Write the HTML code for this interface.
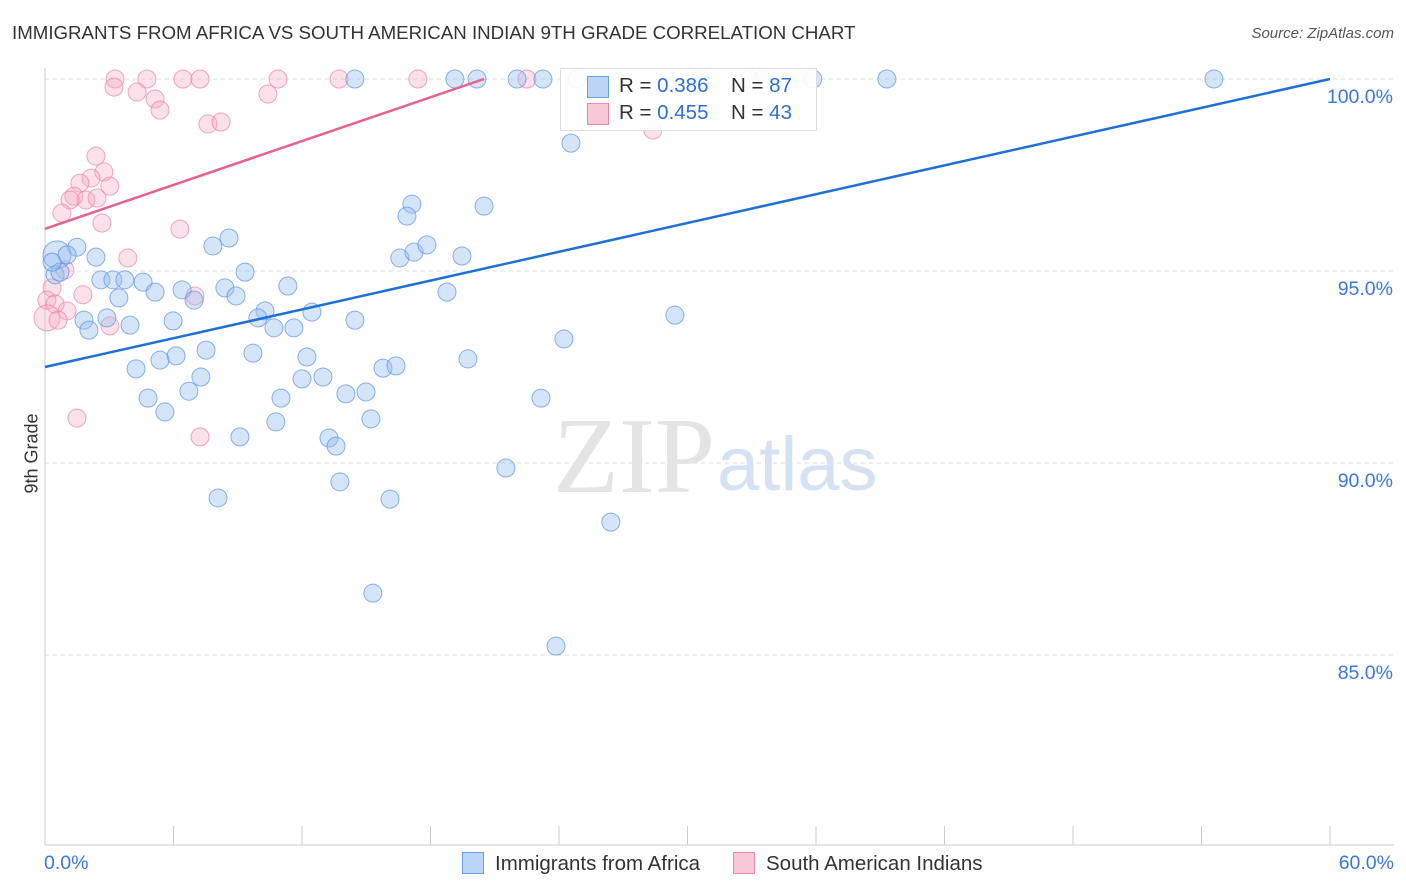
<!DOCTYPE html>
<html><head><meta charset="utf-8">
<style>
body{margin:0;background:#fff;font-family:"Liberation Sans",sans-serif;}
#wrap{position:relative;width:1406px;height:892px;overflow:hidden;}
.t{position:absolute;white-space:nowrap;}
</style></head>
<body>
<div id="wrap">
<div class="t" style="left:12px;top:22px;font-size:18.7px;color:#333;">IMMIGRANTS FROM AFRICA VS SOUTH AMERICAN INDIAN 9TH GRADE CORRELATION CHART</div>
<div class="t" style="right:12px;top:25px;font-size:15px;color:#555;font-style:italic;">Source: ZipAtlas.com</div>
<svg id="svg" width="1406" height="892" style="position:absolute;left:0;top:0"></svg>
</div>
<script>
const xTicks=[0,6,12,18,24,30,36,42,48,54,60];
const yTicks=[100,95,90,85];
const yTickLabels=["100.0%","95.0%","90.0%","85.0%"];
const blueX=[14.47,19.14,20.17,22.04,23.25,24.84,30.58,32.91,33.52,35.85,39.31,54.58,24.56,17.13,16.9,20.5,8.59,7.84,1.49,0.56,1.03,2.38,16.57,17.23,17.83,19.47,9.34,2.61,3.17,3.73,4.58,11.34,8.4,6.4,5.14,3.45,6.96,8.92,18.77,0.47,10.27,12.46,9.94,1.82,2.89,5.98,3.97,2.05,10.69,11.62,14.47,29.41,24.23,7.52,9.71,6.12,5.37,12.23,19.75,4.25,15.78,16.39,7.28,12.0,12.98,6.72,14.05,14.99,4.81,11.02,23.16,5.6,15.22,10.78,9.1,13.26,13.59,21.52,8.08,13.77,16.11,26.42,15.31,23.86,0.7,0.33];
const blueY=[100,100,100,100,100,100,100,100,100,100,100,100,98.33,96.74,96.43,96.69,95.86,95.65,95.62,95.42,95.42,95.36,95.34,95.49,95.68,95.39,94.97,94.77,94.77,94.77,94.71,94.61,94.56,94.51,94.45,94.3,94.24,94.35,94.45,94.9,93.96,93.93,93.78,93.72,93.78,93.7,93.59,93.46,93.52,93.52,93.72,93.85,93.23,92.94,92.86,92.79,92.68,92.76,92.71,92.45,92.47,92.53,92.24,92.19,92.24,91.87,91.8,91.85,91.69,91.69,91.69,91.33,91.15,91.07,90.68,90.65,90.44,89.87,89.09,89.51,89.06,88.46,86.61,85.23,94.97,95.23];
const pinkX=[3.27,4.76,6.44,7.24,10.88,13.73,17.41,22.5,3.22,4.3,10.41,5.14,5.37,7.61,8.22,28.38,2.38,2.75,2.15,1.63,3.03,1.35,1.91,1.17,2.43,0.79,2.66,6.3,3.87,0.93,0.33,1.77,0.09,7.0,0.47,1.03,0.09,0.61,3.03,1.49,7.24];
const pinkY=[100,100,100,100,100,100,100,100,99.79,99.66,99.61,99.48,99.19,98.83,98.88,98.67,97.99,97.58,97.42,97.29,97.21,96.95,96.85,96.85,96.9,96.51,96.25,96.09,95.34,95.03,94.56,94.38,94.24,94.35,94.14,93.96,93.78,93.72,93.57,91.17,90.68];
const blueLine=[92.5,100];
const pinkLine=[96.1,100,20.5];
const X=v=>45+v*(1285/60);
const Y=v=>79+(100-v)*38.4;
const svg=document.getElementById('svg');const NS='http://www.w3.org/2000/svg';
function mk(tag,attrs,parent){const e=document.createElementNS(NS,tag);for(const k in attrs)e.setAttribute(k,attrs[k]);(parent||svg).appendChild(e);return e;}
yTicks.forEach((v,i)=>{
 const g=mk('line',{x1:45,x2:1394,y1:Y(v),y2:Y(v),stroke:'#ddd','stroke-dasharray':'4,4'});
 
 
 const t=mk('text',{x:1393,y:Y(v)+24,'text-anchor':'end','font-size':19.5,fill:'#3a78d8','font-family':'Liberation Sans'});
 t.textContent=yTickLabels[i];
 
 
});
const ax=mk('line',{x1:45,x2:1394,y1:845,y2:845,stroke:'#ccc'});


const ay=mk('line',{x1:45,x2:45,y1:68,y2:845,stroke:'#ccc'});


xTicks.forEach(v=>{const l=mk('line',{x1:X(v),x2:X(v),y1:826,y2:845,stroke:'#ccc'});
 
 });
const wm=mk('text',{x:553,y:492,'font-size':108,fill:'#e4e4e4','font-family':'Liberation Serif'});wm.textContent='ZIP';


const wm2=mk('text',{x:717,y:490,'font-size':76,fill:'#d4e2f4','font-family':'Liberation Sans'});wm2.textContent='atlas';


pinkX.forEach((v,i)=>{const r=(v<0.2&&pinkY[i]<94)?13:9;
 const c=mk('circle',{cx:X(v),cy:Y(pinkY[i]),r:r,fill:'rgba(245,170,195,0.35)',stroke:'rgba(232,130,165,0.7)','stroke-width':1});
 
 });
blueX.forEach((v,i)=>{const r=(v<0.6&&blueY[i]>95.3&&blueY[i]<95.5)?14:9;
 const c=mk('circle',{cx:X(v),cy:Y(blueY[i]),r:r,fill:'rgba(150,190,240,0.4)',stroke:'rgba(90,145,220,0.7)','stroke-width':1});
 
 });
const bl=mk('line',{x1:X(0),y1:Y(blueLine[0]),x2:X(60),y2:Y(blueLine[1]),stroke:'#1e6fd6','stroke-width':2.5});


const pl=mk('line',{x1:X(0),y1:Y(pinkLine[0]),x2:X(pinkLine[2]),y2:Y(pinkLine[1]),stroke:'#e8608c','stroke-width':2.5});


</script>
<div class="t" style="left:560px;top:68px;width:255px;height:61px;background:rgba(255,255,255,0.9);border:1px solid #ddd;font-size:20.5px;color:#333;">
 <div style="position:absolute;left:26px;top:7px;width:20px;height:20px;background:#bcd4f6;border:1px solid #6a9fe0;"></div>
 <div style="position:absolute;left:58px;top:5px;">R = <span style="color:#2f6fd0">0.386</span></div>
 <div style="position:absolute;left:170px;top:5px;">N = <span style="color:#2f6fd0">87</span></div>
 <div style="position:absolute;left:26px;top:34px;width:20px;height:20px;background:#f9c6d6;border:1px solid #e88aa8;"></div>
 <div style="position:absolute;left:58px;top:32px;">R = <span style="color:#2f6fd0">0.455</span></div>
 <div style="position:absolute;left:170px;top:32px;">N = <span style="color:#2f6fd0">43</span></div>
</div>
<div class="t" style="left:-8px;top:443px;font-size:18px;color:#333;transform:rotate(-90deg);">9th Grade</div>
<div class="t" style="left:44px;top:852px;font-size:19.5px;color:#3a78d8;">0.0%</div>
<div class="t" style="right:12px;top:852px;font-size:19.5px;color:#3a78d8;">60.0%</div>
<div class="t" style="left:462px;top:852px;font-size:20.5px;color:#333;"><span style="display:inline-block;width:20px;height:20px;background:#bcd4f6;border:1px solid #6a9fe0;vertical-align:-4px;margin-right:11px;"></span>Immigrants from Africa</div>
<div class="t" style="left:733px;top:852px;font-size:20.5px;color:#333;"><span style="display:inline-block;width:20px;height:20px;background:#f9c6d6;border:1px solid #e88aa8;vertical-align:-4px;margin-right:11px;"></span>South American Indians</div>
</body></html>
